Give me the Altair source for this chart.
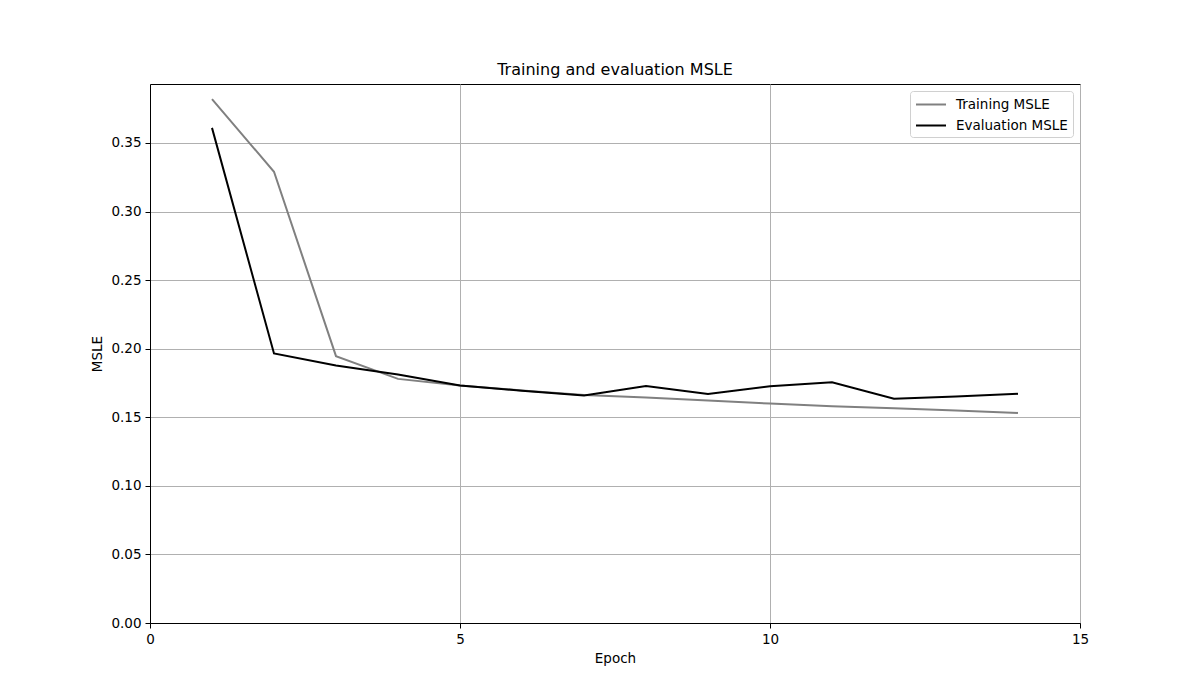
import altair as alt
import pandas as pd

epochs = list(range(1, 15))
training_msle = [0.382, 0.329, 0.1946, 0.178, 0.1732, 0.1696, 0.1662, 0.1644, 0.1622, 0.1600, 0.1581, 0.1566, 0.1549, 0.1532]
evaluation_msle = [0.361, 0.1965, 0.1878, 0.1812, 0.1732, 0.1693, 0.1659, 0.1728, 0.1669, 0.1726, 0.1755, 0.1635, 0.1652, 0.1671]
series_names = ["Training MSLE", "Evaluation MSLE"]
series_colors = ["#808080", "#000000"]

rows = []
for e, v in zip(epochs, training_msle):
    rows.append({"Epoch": e, "MSLE": v, "series": series_names[0]})
for e, v in zip(epochs, evaluation_msle):
    rows.append({"Epoch": e, "MSLE": v, "series": series_names[1]})
df = pd.DataFrame(rows)

FONT = "DejaVu Sans"

chart = alt.Chart(df).mark_line(strokeWidth=2).encode(
    x=alt.X("Epoch:Q",
            scale=alt.Scale(domain=[0, 15], nice=False, zero=False),
            axis=alt.Axis(values=[0, 5, 10, 15], format="d", title="Epoch", labelFlush=False)),
    y=alt.Y("MSLE:Q",
            scale=alt.Scale(domain=[0, 0.393], nice=False),
            axis=alt.Axis(values=[0, 0.05, 0.1, 0.15, 0.2, 0.25, 0.3, 0.35], format=".2f", title="MSLE",
                          labelFlush=False)),
    color=alt.Color("series:N",
                    scale=alt.Scale(domain=series_names, range=series_colors),
                    legend=alt.Legend(title=None, orient="top-right", offset=7,
                                      symbolType="M-1,0L3,0", symbolSize=225, symbolStrokeWidth=2,
                                      labelFont=FONT, labelFontSize=13.5, labelColor="#000000",
                                      strokeColor="#d0d0d0", fillColor="#ffffff",
                                      padding=5, cornerRadius=3, rowPadding=6, labelOffset=24)),
    detail="series:N",
).properties(
    width=930,
    height=539,
    background="#ffffff",
    title=alt.TitleParams("Training and evaluation MSLE", font=FONT, fontSize=16, fontWeight="normal",
                          color="#000000", anchor="middle", frame="group", offset=6),
    autosize=alt.AutoSizeParams(type="none"),
    padding={"left": 142, "top": 76, "right": 112, "bottom": 69},
).configure_view(
    stroke="#000000", strokeWidth=1
).configure_axis(
    labelFont=FONT, labelFontSize=13.5, labelColor="#000000",
    titleFont=FONT, titleFontSize=13.5, titleFontWeight="normal", titleColor="#000000",
    grid=True, gridColor="#b0b0b0", gridWidth=1,
    domainColor="#000000", tickColor="#000000", tickSize=5, tickWidth=1,
    labelPadding=4, titlePadding=6,
)

chart.save("out.html", embed_options={"renderer": "svg", "actions": False})
